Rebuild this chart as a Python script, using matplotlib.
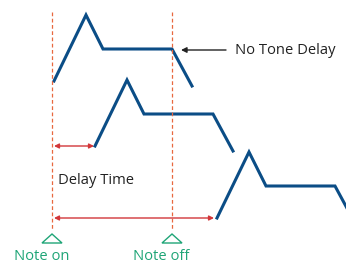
import matplotlib
matplotlib.use('Agg')
import matplotlib.pyplot as plt
from matplotlib.patches import Polygon

# envelope shape: time from key-on, level (pixels downwards from start)
env_time = [0, 32, 49, 118, 138]
env_level = [81, 15, 49, 49, 86]

# each tone: start time and vertical shift
tone_start = [54, 95, 217]
tone_shift = [0, 65, 137]

note_on = 52
note_off = 172

blue = '#0b4d86'
red = '#d2373a'
orange = '#e8683f'
green = '#1fa577'
fs = 10.6

plt.rcParams['font.family'] = ['Open Sans', 'DejaVu Sans']

fig = plt.figure(figsize=(3.46, 2.64), dpi=100)
ax = fig.add_axes([0, 0, 1, 1])
ax.set_xlim(0, 346)
ax.set_ylim(264, 0)
ax.axis('off')

for t0, dy in zip(tone_start, tone_shift):
    xs = [t0 + t for t in env_time]
    ys = [lv + dy for lv in env_level]
    ax.plot(xs, ys, color=blue, lw=2.2, solid_joinstyle='miter')

# note on / off markers
for x in [note_on, note_off]:
    ax.plot([x, x], [12, 230], color=orange, lw=0.9, ls=(0, (3, 2)))
    tri = Polygon([[x - 10, 243], [x + 10, 243], [x, 234]], closed=True,
                  facecolor='white', edgecolor=green, lw=1.0)
    ax.add_patch(tri)

ax.text(note_on - 10, 256, 'Note on', color=green, fontsize=fs, ha='center', va='center')
ax.text(note_off - 11, 256, 'Note off', color=green, fontsize=fs, ha='center', va='center')

# No Tone Delay
ax.annotate('', xy=(181, 50), xytext=(226, 50),
            arrowprops=dict(arrowstyle='-|>', color='#222222', lw=1.0,
                            mutation_scale=8, shrinkA=0, shrinkB=0))
ax.text(235, 50, 'No Tone Delay', color='#222222', fontsize=fs, ha='left', va='center')

# delay time arrows
ax.annotate('', xy=(54, 146), xytext=(94, 146),
            arrowprops=dict(arrowstyle='<|-|>', color=red, lw=1.0,
                            mutation_scale=7, shrinkA=0, shrinkB=0))
ax.text(58, 180, 'Delay Time', color='#222222', fontsize=fs, ha='left', va='center')
ax.annotate('', xy=(54, 218), xytext=(214, 218),
            arrowprops=dict(arrowstyle='<|-|>', color=red, lw=1.0,
                            mutation_scale=7, shrinkA=0, shrinkB=0))

fig.savefig('out.png', dpi=100)
